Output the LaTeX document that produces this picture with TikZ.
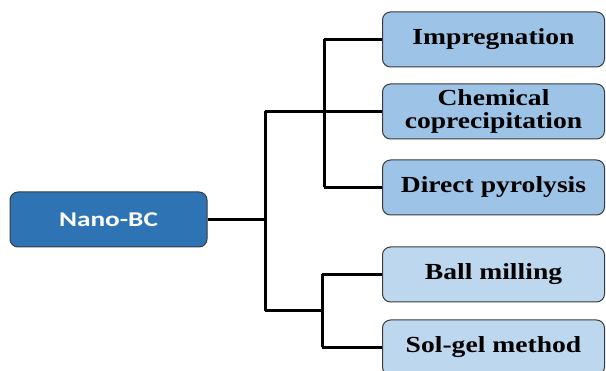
\documentclass[tikz,border=0pt]{standalone}
\usepackage{fontspec}
\setmainfont{Liberation Serif}
\newfontfamily\boxserif[FakeStretch=1.2]{Liberation Serif}
\newfontfamily\boxsans[FakeStretch=1.3]{Carlito}
\definecolor{rootblue}{HTML}{2E74B5}
\definecolor{midblue}{HTML}{9DC3E6}
\definecolor{lightblue}{HTML}{BDD7EE}
\definecolor{edgegray}{HTML}{3A3A3A}
\tikzset{
  basebox/.style={draw=edgegray, line width=1pt, rounded corners=8pt, minimum height=55pt, inner sep=0pt, align=center},
  rootbox/.style={basebox, fill=rootblue, minimum width=197pt, text=white, font=\boxsans\bfseries\fontsize{21}{24}\selectfont},
  methodA/.style={basebox, fill=midblue, minimum width=222pt, font=\boxserif\bfseries\fontsize{23}{23.5}\selectfont},
  methodB/.style={basebox, fill=lightblue, minimum width=222pt, font=\boxserif\bfseries\fontsize{23}{23.5}\selectfont},
  link/.style={draw=black, line width=3pt, line join=miter}
}
\begin{document}
\begin{tikzpicture}[x=1pt,y=1pt]
\useasboundingbox (0,0) rectangle (606,371);
\node[rootbox] (root) at (108.5,151.5) {Nano-BC};
\node[methodA] (imp) at (493.5,331.5) {Impregnation};
\node[methodA] (chem) at (493.5,259.5) {Chemical\\coprecipitation};
\node[methodA] (dir) at (493.5,183.5) {Direct pyrolysis};
\node[methodB] (ball) at (493.5,96.5) {Ball milling};
\node[methodB] (sol) at (493.5,23.5) {Sol-gel method};
\coordinate (jroot) at (265,151.5);
\coordinate (jtop) at (265,259.5);
\coordinate (jbot) at (265,60);
\coordinate (vtop1) at (324,331.5);
\coordinate (vtop2) at (324,183.5);
\coordinate (vtopm) at (324,259.5);
\coordinate (vbot1) at (322,96.5);
\coordinate (vbot2) at (322,23.5);
\coordinate (vbotm) at (322,60);
\draw[link] (root.east) -- (jroot);
\draw[link] (jtop) -- (jbot);
\draw[link] (jtop) -- (vtopm);
\draw[link] (jbot) -- (vbotm);
\draw[link] (vtop1) -- (vtop2);
\draw[link] (vbot1) -- (vbot2);
\draw[link] (vtop1) -- (imp.west);
\draw[link] (vtopm) -- (chem.west);
\draw[link] (vtop2) -- (dir.west);
\draw[link] (vbot1) -- (ball.west);
\draw[link] (vbot2) -- (sol.west);
\end{tikzpicture}
\end{document}
